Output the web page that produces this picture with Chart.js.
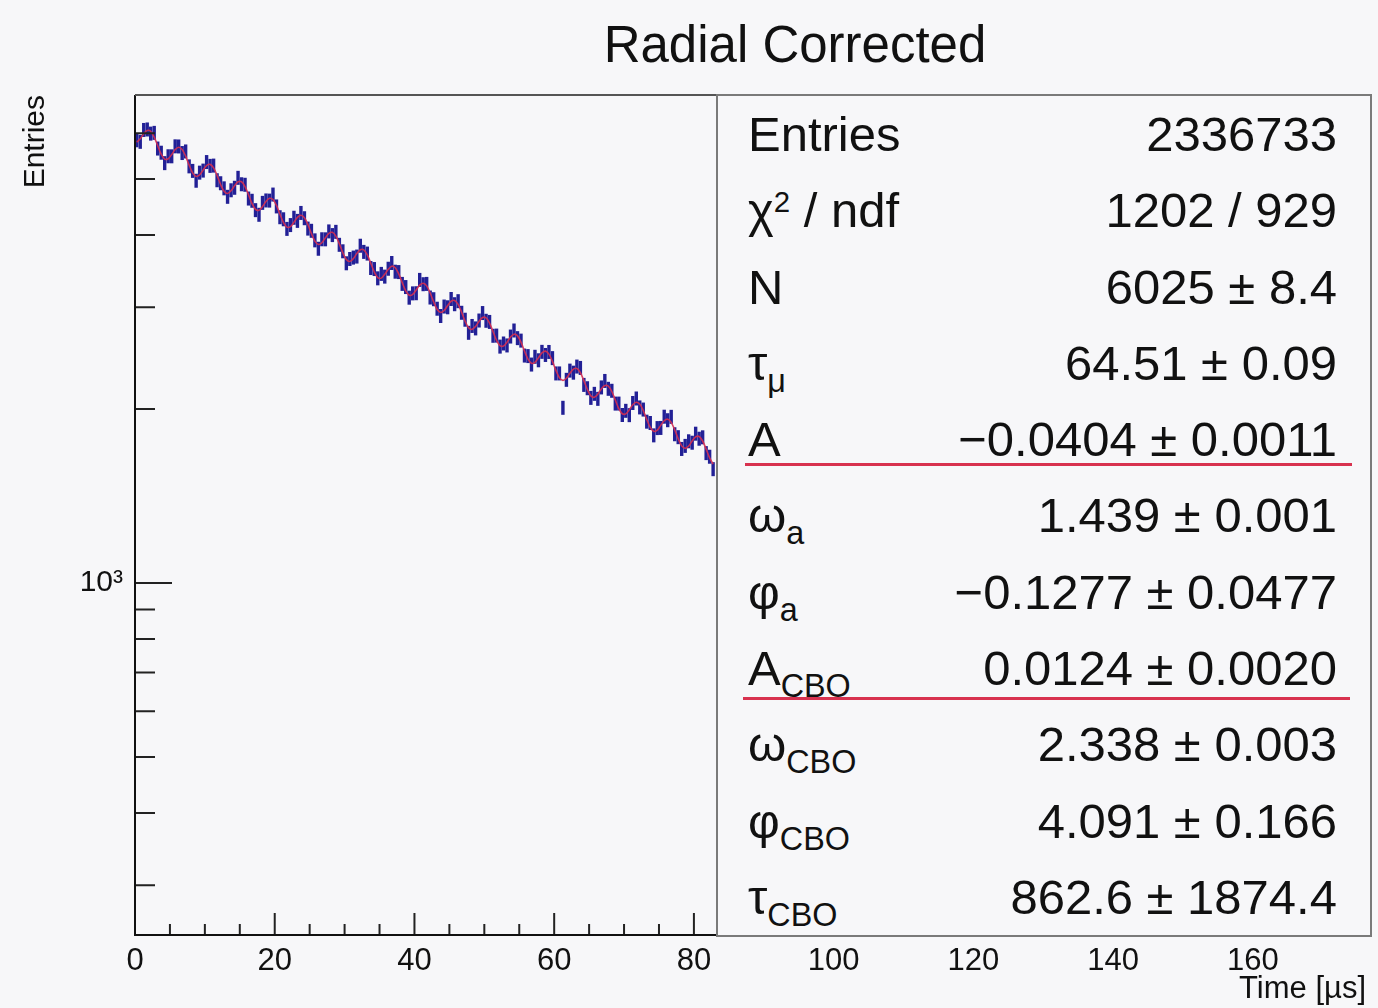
<!DOCTYPE html>
<html>
<head>
<meta charset="utf-8">
<title>Radial Corrected</title>
<script src="https://cdn.jsdelivr.net/npm/chart.js@4.4.1/dist/chart.umd.min.js"></script>
<style>
  html, body { margin: 0; padding: 0; background: #f7f7f9; }
  #wrap { position: relative; width: 1378px; height: 1008px; font-family: "Liberation Sans", Arial, sans-serif; color: #111; }
  #plot { position: absolute; left: 0; top: 0; }
  #title { position: absolute; left: 795px; top: 44px; transform: translate(-50%, -50%); font-size: 51px; white-space: nowrap; }
  #stats { position: absolute; left: 716px; top: 94px; width: 656px; height: 843px; box-sizing: border-box;
           border: 2px solid #7a7a7a; background: #f7f7f9; display: flex; flex-direction: column; }
  .row { flex: 1; display: flex; justify-content: space-between; align-items: center; padding: 0 33px 0 30px; font-size: 49px; }
  .row sub { font-size: 0.66em; vertical-align: -0.38em; line-height: 0; }
  .row sup { font-size: 0.6em; vertical-align: 0.5em; line-height: 0; }
  .mark { position: absolute; height: 3px; background: #d8324f; }
</style>
</head>
<body>
<div id="wrap">
  <canvas id="plot" width="1378" height="1008"></canvas>
  <div id="title">Radial Corrected</div>
  <div id="stats"></div>
  <div class="mark" style="left:745px; top:463px; width:607px;"></div>
  <div class="mark" style="left:743px; top:697px; width:607px;"></div>
</div>
<script>
(function() {
    // bin centres (µs)
    const binTimes = [
        0.25, 0.75, 1.25, 1.75, 2.25, 2.75, 3.25, 3.75, 4.25, 4.75,
        5.25, 5.75, 6.25, 6.75, 7.25, 7.75, 8.25, 8.75, 9.25, 9.75,
        10.25, 10.75, 11.25, 11.75, 12.25, 12.75, 13.25, 13.75, 14.25, 14.75,
        15.25, 15.75, 16.25, 16.75, 17.25, 17.75, 18.25, 18.75, 19.25, 19.75,
        20.25, 20.75, 21.25, 21.75, 22.25, 22.75, 23.25, 23.75, 24.25, 24.75,
        25.25, 25.75, 26.25, 26.75, 27.25, 27.75, 28.25, 28.75, 29.25, 29.75,
        30.25, 30.75, 31.25, 31.75, 32.25, 32.75, 33.25, 33.75, 34.25, 34.75,
        35.25, 35.75, 36.25, 36.75, 37.25, 37.75, 38.25, 38.75, 39.25, 39.75,
        40.25, 40.75, 41.25, 41.75, 42.25, 42.75, 43.25, 43.75, 44.25, 44.75,
        45.25, 45.75, 46.25, 46.75, 47.25, 47.75, 48.25, 48.75, 49.25, 49.75,
        50.25, 50.75, 51.25, 51.75, 52.25, 52.75, 53.25, 53.75, 54.25, 54.75,
        55.25, 55.75, 56.25, 56.75, 57.25, 57.75, 58.25, 58.75, 59.25, 59.75,
        60.25, 60.75, 61.25, 61.75, 62.25, 62.75, 63.25, 63.75, 64.25, 64.75,
        65.25, 65.75, 66.25, 66.75, 67.25, 67.75, 68.25, 68.75, 69.25, 69.75,
        70.25, 70.75, 71.25, 71.75, 72.25, 72.75, 73.25, 73.75, 74.25, 74.75,
        75.25, 75.75, 76.25, 76.75, 77.25, 77.75, 78.25, 78.75, 79.25, 79.75,
        80.25, 80.75, 81.25, 81.75, 82.25, 82.75
    ];

    // histogram contents (entries per bin)
    const counts = [
        5836, 5800, 6081, 6093, 5993, 6011, 5647, 5554, 5328, 5476,
        5475, 5697, 5694, 5547, 5582, 5260, 5166, 4967, 5130, 5172,
        5351, 5270, 5276, 4977, 4918, 4819, 4659, 4782, 4830, 5025,
        4898, 4888, 4627, 4586, 4418, 4337, 4548, 4592, 4589, 4701,
        4484, 4295, 4260, 4100, 4163, 4286, 4233, 4369, 4278, 4105,
        4069, 3917, 3788, 3934, 3933, 4059, 4000, 4052, 3848, 3750,
        3575, 3637, 3657, 3672, 3834, 3741, 3716, 3508, 3494, 3367,
        3427, 3390, 3498, 3579, 3457, 3452, 3293, 3252, 3117, 3171,
        3173, 3346, 3289, 3293, 3119, 3098, 2983, 2898, 3009, 3000,
        3101, 3037, 3074, 2935, 2855, 2710, 2785, 2758, 2846, 2932,
        2843, 2830, 2678, 2680, 2565, 2597, 2577, 2670, 2735, 2653,
        2627, 2475, 2470, 2388, 2463, 2429, 2512, 2481, 2511, 2450,
        2305, 2305, 2010, 2247, 2331, 2312, 2369, 2356, 2202, 2173,
        2091, 2125, 2083, 2180, 2237, 2168, 2151, 2044, 2044, 1953,
        1986, 1952, 2049, 2086, 2013, 1996, 1902, 1892, 1801, 1854,
        1855, 1940, 1913, 1939, 1809, 1788, 1706, 1727, 1759, 1749,
        1813, 1777, 1787, 1678, 1654, 1574
    ];

    // fitted function at the same times
    const fitCurve = [
        5790, 5870, 5991, 6069, 6047, 5911, 5710, 5521, 5415, 5422,
        5514, 5624, 5677, 5626, 5478, 5286, 5125, 5053, 5084, 5182,
        5277, 5302, 5229, 5073, 4894, 4762, 4720, 4772, 4869, 4946,
        4947, 4854, 4697, 4536, 4431, 4417, 4481, 4574, 4631, 4609,
        4502, 4347, 4205, 4129, 4138, 4210, 4293, 4330, 4287, 4172,
        4025, 3905, 3853, 3880, 3957, 4027, 4044, 3984, 3863, 3728,
        3629, 3601, 3642, 3717, 3774, 3771, 3698, 3576, 3453, 3377,
        3370, 3421, 3491, 3533, 3513, 3428, 3310, 3204, 3148, 3158,
        3215, 3277, 3302, 3267, 3176, 3064, 2974, 2939, 2962, 3021,
        3073, 3083, 3035, 2941, 2838, 2765, 2747, 2780, 2837, 2880,
        2875, 2816, 2722, 2630, 2575, 2571, 2611, 2665, 2695, 2677,
        2611, 2520, 2441, 2400, 2410, 2454, 2502, 2519, 2489, 2419,
        2333, 2266, 2242, 2261, 2306, 2345, 2350, 2312, 2240, 2162,
        2108, 2096, 2123, 2167, 2197, 2192, 2145, 2073, 2004, 1963,
        1962, 1994, 2035, 2055, 2040, 1988, 1919, 1859, 1830, 1839,
        1874, 1909, 1921, 1897, 1842, 1777, 1727, 1710, 1726, 1761,
        1790, 1793, 1761, 1705, 1646, 1606
    ];

    const yTicks = [300, 400, 500, 600, 700, 800, 900, 1000, 2000, 3000, 4000, 5000, 6000];

    // stats box rows: [label html, value]
    const statLabels = [
        'Entries', '&chi;<sup>2</sup> / ndf', 'N', '&tau;<sub>&mu;</sub>', 'A',
        '&omega;<sub>a</sub>', '&phi;<sub>a</sub>', 'A<sub>CBO</sub>',
        '&omega;<sub>CBO</sub>', '&phi;<sub>CBO</sub>', '&tau;<sub>CBO</sub>'
    ];
    const statValues = [
        '2336733', '1202 / 929', '6025 \u00b1 8.4', '64.51 \u00b1 0.09',
        '\u22120.0404 \u00b1 0.0011', '1.439 \u00b1 0.001', '\u22120.1277 \u00b1 0.0477',
        '0.0124 \u00b1 0.0020', '2.338 \u00b1 0.003', '4.091 \u00b1 0.166', '862.6 \u00b1 1874.4'
    ];

    const box = document.getElementById('stats');
    statLabels.forEach((lab, i) => {
        const row = document.createElement('div');
        row.className = 'row';
        const l = document.createElement('span');
        l.innerHTML = lab;
        const v = document.createElement('span');
        v.textContent = statValues[i];
        row.appendChild(l);
        row.appendChild(v);
        box.appendChild(row);
    });

    const FONT = '"Liberation Sans", Arial, sans-serif';

    // ROOT style frame with ticks drawn inside the pad
    const rootFrame = {
        id: 'rootFrame',
        afterDraw(chart) {
            const { ctx, chartArea: a, scales: { x, y } } = chart;
            ctx.save();
            ctx.strokeStyle = '#222';
            ctx.lineWidth = 2;
            ctx.beginPath();
            for (let v = 5; v < x.max; v += 5) {
                const px = x.getPixelForValue(v);
                const len = v % 20 === 0 ? 22 : 11;
                ctx.moveTo(px, a.bottom);
                ctx.lineTo(px, a.bottom - len);
            }
            yTicks.forEach(v => {
                const py = y.getPixelForValue(v);
                const len = v === 1000 ? 37 : 20;
                ctx.moveTo(a.left, py);
                ctx.lineTo(a.left + len, py);
            });
            ctx.stroke();

            ctx.strokeStyle = '#111';
            ctx.beginPath();
            ctx.moveTo(a.left, a.top);
            ctx.lineTo(a.left, a.bottom);
            ctx.lineTo(a.right + 4, a.bottom);
            ctx.stroke();
            ctx.strokeStyle = '#555';
            ctx.beginPath();
            ctx.moveTo(a.left, a.top);
            ctx.lineTo(a.right, a.top);
            ctx.stroke();
            ctx.restore();
        }
    };

    new Chart(
        document.getElementById('plot'),
        {
            type: 'scatter',
            data: {
                datasets: [
                    {
                        label: 'fit',
                        type: 'line',
                        data: binTimes.map((t, i) => ({ x: t, y: fitCurve[i] })),
                        borderColor: 'rgba(214,46,80,0.9)',
                        borderWidth: 1.6,
                        pointRadius: 0,
                        tension: 0.3,
                        fill: false
                    },
                    {
                        label: 'Entries',
                        data: binTimes.map((t, i) => ({ x: t, y: counts[i] })),
                        pointStyle: 'line',
                        rotation: 90,
                        radius: 7,
                        borderWidth: 3.4,
                        borderColor: 'rgb(34,32,150)',
                        backgroundColor: 'rgb(34,32,150)',
                        showLine: false
                    }
                ]
            },
            options: {
                responsive: false,
                animation: false,
                layout: { padding: { top: 95, right: 12, bottom: 0, left: 0 } },
                plugins: {
                    legend: { display: false },
                    tooltip: { enabled: false }
                },
                scales: {
                    x: {
                        type: 'linear',
                        min: 0,
                        max: 176.2,
                        afterFit: s => { s.height = 73; },
                        grid: { display: false, drawTicks: false },
                        border: { display: false },
                        ticks: {
                            stepSize: 20,
                            includeBounds: false,
                            padding: 8,
                            maxRotation: 0,
                            color: '#111',
                            font: { family: FONT, size: 31 }
                        },
                        title: {
                            display: true,
                            text: 'Time [\u00b5s]',
                            align: 'end',
                            color: '#111',
                            font: { family: FONT, size: 31 },
                            padding: { top: 0, bottom: 0 }
                        }
                    },
                    y: {
                        type: 'logarithmic',
                        min: 246,
                        max: 6990,
                        afterFit: s => { s.width = 135; },
                        afterBuildTicks: s => { s.ticks = yTicks.map(v => ({ value: v })); },
                        grid: { display: false, drawTicks: false },
                        border: { display: false },
                        ticks: {
                            autoSkip: false,
                            padding: 12,
                            color: '#111',
                            font: { family: FONT, size: 30 },
                            callback: v => v === 1000 ? '10\u00b3' : ''
                        },
                        title: {
                            display: true,
                            text: 'Entries',
                            align: 'end',
                            color: '#111',
                            font: { family: FONT, size: 30 },
                            padding: { top: 18, bottom: 0 }
                        }
                    }
                }
            },
            plugins: [rootFrame]
        }
    );
})();
</script>
</body>
</html>
